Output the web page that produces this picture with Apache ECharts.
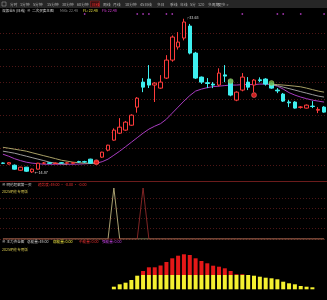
<!DOCTYPE html>
<html><head><meta charset="utf-8">
<script src="https://cdn.jsdelivr.net/npm/echarts@6/dist/echarts.min.js"></script>
<style>html,body{margin:0;padding:0;background:#000;overflow:hidden}#c{width:327px;height:300px}</style>
</head><body><div id="c"></div>
<script>
// ---- data ----
const categories = Array.from({length:56}, (_, i) => 'D' + (i + 1));
const openP = [16.08,15.95,15.81,15.20,15.57,15.00,15.33,16.06,16.10,16.02,
  16.10,16.06,16.05,16.25,16.24,16.55,16.00,16.79,17.64,18.86,
  19.71,20.08,20.68,22.88,25.92,26.29,25.56,25.19,26.41,28.60,
  30.19,31.28,32.74,29.45,26.53,25.85,25.68,25.56,26.80,26.17,
  23.73,24.95,25.92,25.56,26.20,26.29,25.80,24.95,24.46,23.50,
  23.49,22.85,22.76,23.00,22.50,22.88];
const closeP = [16.04,16.12,15.33,15.57,15.08,15.33,16.06,16.08,16.04,16.06,
  16.08,16.10,16.12,16.20,16.20,16.06,16.30,17.40,18.25,20.08,
  20.44,21.05,21.90,23.97,25.31,25.56,25.80,25.92,28.60,31.40,
  30.79,33.23,29.45,26.41,25.92,25.75,25.56,27.02,26.65,24.34,
  24.70,26.53,25.31,26.17,26.10,25.68,25.19,24.85,23.61,23.40,
  22.76,22.90,23.12,22.95,22.60,22.27];
const lowP = [15.95,15.90,15.25,15.15,15.00,14.87,15.30,15.95,15.95,15.95,
  16.00,16.00,16.00,16.10,16.10,16.00,15.95,16.70,17.50,18.80,
  19.60,20.00,20.60,22.20,24.70,25.20,23.50,25.10,26.30,28.40,
  29.90,31.00,29.30,26.30,25.70,25.19,25.19,25.40,25.92,24.20,
  23.60,24.80,24.95,24.70,25.90,25.50,25.10,24.58,23.50,22.88,
  22.70,22.70,22.70,22.76,22.15,22.20];
const highP = [16.15,16.20,15.90,15.62,15.60,15.40,16.10,16.20,16.20,16.15,
  16.18,16.18,16.20,16.35,16.35,16.60,16.40,17.45,18.30,20.30,
  21.54,21.20,22.00,24.10,26.40,27.99,25.92,26.77,29.20,31.60,
  32.00,33.63,33.00,29.60,26.60,26.41,25.92,27.60,27.99,26.30,
  24.80,27.02,26.53,26.30,26.50,26.40,25.90,25.19,24.60,23.73,
  23.60,23.00,23.20,23.61,22.88,23.00];
const fsLine = [17.15,16.90,16.60,16.37,16.18,16.06,16.00,15.93,15.93,15.93,
  15.93,15.93,15.93,15.95,15.98,16.02,16.06,16.24,16.55,17.03,
  17.52,18.06,18.61,19.16,19.71,20.20,20.56,20.87,21.41,22.15,
  22.88,23.61,24.28,24.83,25.07,25.25,25.37,25.43,25.50,25.56,
  25.56,25.62,25.62,25.62,25.68,25.68,25.62,25.43,25.07,24.64,
  24.34,24.10,23.91,23.73,23.61,23.49];
const flLine = [17.99,17.88,17.76,17.64,17.52,17.33,17.15,16.97,16.79,16.61,
  16.42,16.30,16.18,16.12,16.06,16.06,16.06,null,null,null,
  null,null,null,null,null,null,null,null,null,null,
  null,null,null,null,null,null,null,null,null,null,
  null,null,null,null,null,null,25.65,25.62,25.56,25.50,
  25.43,25.35,25.19,25.01,24.83,24.70];
const maLine = [17.52,17.40,17.27,17.09,16.91,16.73,16.55,16.37,16.18,16.06,
  16.00,15.93,null,null,null,null,null,null,null,null,
  null,null,null,null,null,null,null,null,null,null,
  null,null,null,null,null,null,null,null,null,null,
  null,null,null,null,null,null,25.62,25.50,25.31,25.13,
  24.95,24.76,24.58,24.40,24.22,24.10];
const topDotIdx = [14,23,24,25,28,29,41,47,48,51,55];
const redDotIdx = [16,43];
const redDotVal = [16.18,24.34];
const greenDotIdx = [39,46];
const greenDotVal = [26.04,25.80];
const spikeA = [0,0,0,0,0,0,0,0,0,0, 0,0,0,0,0,0,0,0,0,100, 0,0,0,0,0,0,0,0,0,0,
  0,0,0,0,0,0,0,0,0,0, 0,0,0,0,0,0,0,0,0,0, 0,0,0,0,0,0];
const spikeB = [0,0,0,0,0,0,0,0,0,0, 0,0,0,0,0,0,0,0,0,0, 0,0,0,0,100,0,0,0,0,0,
  0,0,0,0,0,0,0,0,0,0, 0,0,0,0,0,0,0,0,0,0, 0,0,0,0,0,0];
const energyYellow = [null,null,null,null,null,null,null,null,null,null,
  null,null,null,null,null,null,null,null,null,2.6,
  5.0,6.6,9.3,13.6,14.3,14.3,14.3,14.3,14.3,14.3,
  14.3,14.3,14.3,14.3,14.3,14.3,14.3,14.3,14.3,14.3,
  14.3,14.3,14.3,13.6,12.6,11.6,11.0,10.0,7.6,6.0,
  5.0,3.3,2.6,2.0,null,null];
const energyRed = [null,null,null,null,null,null,null,null,null,null,
  null,null,null,null,null,null,null,null,null,null,
  null,null,null,null,4.0,7.7,7.7,9.5,13.0,16.7,
  19.3,20.7,20.0,16.7,14.0,11.7,9.3,8.3,6.7,4.0,
  0.7,0.7,null,null,null,null,null,null,null,null,
  null,null,null,null,null,null];
const toolbarLabels = ['分时','1分钟','5分钟','15分钟','30分钟','60分钟','日线','周线','月线','10分钟','45日线','多日','季线','年线','5分','120','多周期','更多 >'];
const toolbarX = [10,20,33,47,62,77,92,103,113,125,140,157,170,180,190,198,208,218];

// ---- chart ----
const F = 'Noto Sans CJK SC';
const chart = echarts.init(document.getElementById('c'), null, {renderer:'canvas'});
const ohlc = categories.map((c, i) => [openP[i], closeP[i], lowP[i], highP[i]]);
function txt(x, y, s, color, size){
  return {type:'text', x:x, y:y, z:100, style:{text:s, fill:color, fontSize:size||3.6, fontFamily:F, verticalAlign:'middle', textAlign:'left'}};
}
const graphics = [{type:'rect', shape:{x:0,y:0,width:327,height:8}, style:{fill:'#262626'}, z:90},
  {type:'rect', shape:{x:2,y:2,width:4,height:4}, style:{fill:'none', stroke:'#999', lineWidth:0.6}, z:100},
  {type:'rect', shape:{x:90.5,y:1,width:9,height:6}, style:{fill:'#3a1010', stroke:'#a02020', lineWidth:0.5}, z:95}];
toolbarLabels.forEach((s, i) => graphics.push(txt(toolbarX[i], 4.2, s, s === '日线' ? '#ff3030' : '#b0b0b0', 3.8)));
graphics.push(
  txt(2, 10.5, '深振业A (日线)', '#dddddd'),
  txt(27, 10.5, '⊗', '#bbbbbb'),
  txt(32, 10.5, '二次买卖主图', '#dddddd'),
  txt(60, 10.5, 'MA5: 22.48', '#8a8a8a'),
  txt(83, 10.5, 'FL: 22.48', '#e8e040'),
  txt(102, 10.5, 'FS: 22.48', '#e040e0'),
  txt(2, 185, '⊗ 明伦超赢第一买', '#cccccc'),
  txt(38, 185, '趋势度: 49.00 · -0.00 · -0.00', '#e83030'),
  txt(2, 191.5, '2025明伦专用版', '#d8c850'),
  txt(2, 241.5, '⊗ 主力资金图', '#cccccc'),
  txt(27, 241.5, '总能量: 49.00', '#cccccc'),
  txt(53, 241.5, '弱能量: 0.00', '#e8e040'),
  txt(79, 241.5, '中能量: 0.00', '#e83030'),
  txt(102, 241.5, '强能量: 0.00', '#c040e0'),
  txt(2, 250, '2025明伦专用版', '#d8c850')
);
const dashY = {show:true, lineStyle:{color:'#4e1616', type:[1,2], width:1}};
const hid = {axisLine:{show:false}, axisTick:{show:false}, axisLabel:{show:false}};
const option = {
  backgroundColor:'#000',
  animation:false,
  grid:[
    {left:0, width:327, top:12, height:169.5},
    {left:0, width:327, top:33, height:148.5},
    {left:0, width:327, top:188, height:51},
    {left:0, width:327, top:197.8, height:41.2},
    {left:0, width:327, top:249.3, height:40},
    {left:0, width:327, top:12, height:4}
  ],
  xAxis:[
    {gridIndex:0, type:'category', data:categories, boundaryGap:true, axisLine:{show:true, lineStyle:{color:'#6b1c1c'}}, axisTick:{show:false}, axisLabel:{show:false}, splitLine:{show:false}},
    {gridIndex:1, type:'value', show:false},
    {gridIndex:2, type:'category', data:categories, show:false},
    {gridIndex:3, type:'value', show:false},
    {gridIndex:4, type:'category', data:categories, show:false},
    {gridIndex:5, type:'category', data:categories, show:false}
  ],
  yAxis:[
    {gridIndex:0, type:'value', min:13.83, max:34.45, show:false},
    Object.assign({gridIndex:1, type:'value', min:0, max:9, interval:1, splitLine:dashY}, hid),
    {gridIndex:2, type:'value', min:0, max:100, show:false},
    Object.assign({gridIndex:3, type:'value', min:0, max:4, interval:1, splitLine:dashY}, hid),
    {gridIndex:4, type:'value', min:0, max:40, show:false},
    {gridIndex:5, type:'value', min:0, max:2, show:false}
  ],
  series:[
    {type:'line', xAxisIndex:0, yAxisIndex:0, data:fsLine, symbol:'none', z:2, lineStyle:{color:'#a83cc0', width:1}},
    {type:'line', xAxisIndex:0, yAxisIndex:0, data:flLine, symbol:'none', z:2, lineStyle:{color:'#a8a066', width:1}},
    {type:'line', xAxisIndex:0, yAxisIndex:0, data:maLine, symbol:'none', z:2, lineStyle:{color:'#9a9a9a', width:1}},
    {type:'candlestick', xAxisIndex:0, yAxisIndex:0, data:ohlc, barWidth:4, z:3,
      itemStyle:{color:'#000', color0:'#3ef0f0', borderColor:'#ff3b3b', borderColor0:'#3ef0f0', borderWidth:1},
      markPoint:{symbol:'circle', symbolSize:1, itemStyle:{color:'rgba(0,0,0,0)'},
        label:{show:true, position:'right', distance:1, color:'#dddddd', fontSize:3.8, fontFamily:F},
        data:[
          {type:'min', valueDim:'lowest', label:{formatter:'←14.87', offset:[1,0]}},
          {type:'max', valueDim:'highest', label:{formatter:'┌33.63', offset:[0,-1.5]}}
        ]}},
    {type:'scatter', xAxisIndex:0, yAxisIndex:0, z:5, symbolSize:5, data:redDotIdx.map((i, k) => [i, redDotVal[k]]),
      itemStyle:{color:'#ff2424', borderColor:'#ff8080', borderWidth:0.6}},
    {type:'scatter', xAxisIndex:0, yAxisIndex:0, z:5, symbolSize:5, data:greenDotIdx.map((i, k) => [i, greenDotVal[k]]),
      itemStyle:{color:'#6fa83c', borderColor:'#a8d870', borderWidth:0.6}},
    {type:'scatter', xAxisIndex:5, yAxisIndex:5, z:5, symbolSize:1.8, data:topDotIdx.map(i => [i, 1]),
      itemStyle:{color:'#c040d0'}},
    {type:'line', xAxisIndex:2, yAxisIndex:2, data:spikeA, symbol:'none', z:2, lineStyle:{color:'#a8a070', width:1}},
    {type:'line', xAxisIndex:2, yAxisIndex:2, data:spikeB, symbol:'none', z:2, lineStyle:{color:'#a83030', width:1, opacity:0.75}},
    {type:'bar', xAxisIndex:4, yAxisIndex:4, stack:'e', data:energyYellow, barWidth:4, itemStyle:{color:'#f5f030'}},
    {type:'bar', xAxisIndex:4, yAxisIndex:4, stack:'e', data:energyRed, barWidth:4, itemStyle:{color:'#e41818'}}
  ],
  graphic:graphics
};
chart.setOption(option);
</script>
</body></html>
